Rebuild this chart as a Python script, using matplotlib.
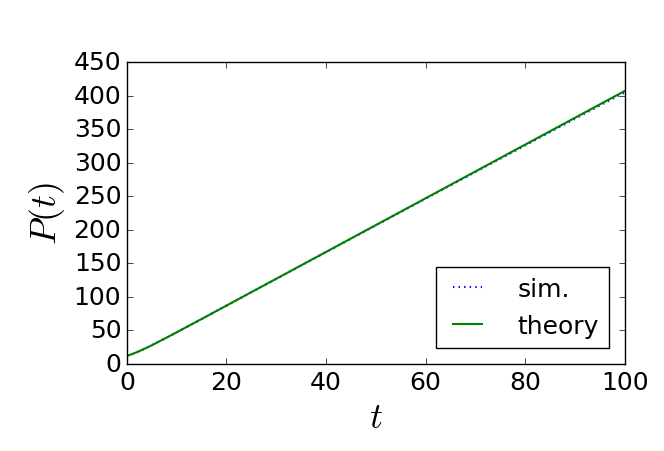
import matplotlib
matplotlib.use("Agg")
import matplotlib.pyplot as plt

plt.style.use('classic')

# time points
t = [0, 1, 2, 3, 4, 5, 6, 8, 10, 15, 20, 25, 30, 35, 40, 45, 50, 55, 60, 65,
     70, 75, 80, 85, 90, 95, 100]
# theory curve P(t)
theory = [12.0, 14.6, 17.6, 20.8, 24.3, 27.9, 31.7, 39.4, 47.2, 67.0, 87.0,
          107.0, 127.0, 147.0, 167.0, 187.0, 207.0, 227.0, 247.0, 267.0,
          287.0, 307.0, 327.0, 347.0, 367.0, 387.0, 407.0]
# simulation
sim = [12.0, 14.5, 17.5, 20.7, 24.2, 27.8, 31.6, 39.3, 47.1, 66.9, 86.9,
       106.9, 126.9, 146.8, 166.8, 186.7, 206.6, 226.5, 246.4, 266.3,
       286.1, 305.9, 325.8, 345.6, 365.4, 385.2, 404.8]

fig = plt.figure(figsize=(6.64, 4.52), dpi=100)
ax = fig.add_axes([0.191, 0.1925, 0.75, 0.668])

ax.plot(t, sim, 'b:', lw=1.5, label='sim.')
ax.plot(t, theory, 'g-', lw=1.5, label='theory')

ax.set_xlim(0, 100)
ax.set_ylim(0, 450)
ax.set_xticks([0, 20, 40, 60, 80, 100])
ax.set_yticks(range(0, 451, 50))
ax.tick_params(labelsize=18)
ax.set_xlabel(r'$t$', fontsize=26)
ax.set_ylabel(r'$P(t)$', fontsize=26)
ax.legend(loc='lower right', fontsize=18, handlelength=1.75,
          handletextpad=1.1, borderaxespad=0.65)

plt.savefig("out.png", dpi=100)
